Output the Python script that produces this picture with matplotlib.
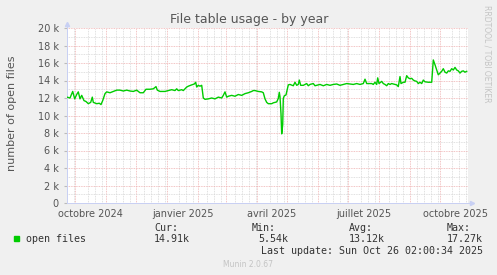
import datetime as dt
import matplotlib
matplotlib.use("Agg")
import matplotlib.pyplot as plt
import matplotlib.patches as patches

start = dt.datetime(2024, 9, 23)

# days since start, number of open files (thousands)
days = [0, 3, 5.7, 7.7, 9.7, 11.3, 13, 14.7, 17, 19, 21.3, 23.7, 25.3, 26.3, 29.7,
        32.3, 34, 35.7, 38, 39.7, 43, 46.3, 49.7, 53, 56.3, 59.7, 63, 66.3, 69.7,
        73, 76.3, 79, 83, 86.3, 89, 90.3, 93, 96.3,
        98, 101.3, 104.7, 108, 109.7, 111.3, 114.7, 116.3, 118, 119.7, 121.3, 124.7,
        127.3, 128.7, 129.7, 131.3, 133, 134.7, 136.3, 138, 141.3, 144.7, 148, 151.3,
        154.7, 156.3, 158, 159.7, 161.3, 164.7, 168, 171.3, 174.7, 178, 181.3, 184.7,
        186.3, 188, 191.3, 194.7, 196.3, 198, 199.7, 201.3, 204.7,
        206.3, 209.7, 211.3, 212.3, 213, 214, 214.7, 215.7, 216.3, 217.3, 219, 219.7,
        221.3, 223, 226.3, 228, 229.7, 231.3, 232.3, 233.7, 236.3, 239.7, 241.3, 243,
        246.3, 248, 249.7, 253, 256.3, 259.7, 263, 266.3, 269.7, 273, 276.3, 279.7,
        283, 286.3, 289.7, 293, 296.3, 298, 299.7, 303,
        304.7, 306.3, 308, 309.7, 310.7, 312, 314.7, 316.3, 318, 319.7, 321.3, 323,
        324.7, 328, 329.7, 331.3, 333, 334, 336.3, 338, 339.7, 341.3, 343, 344.7,
        346.3, 348, 349.7, 351.3, 353, 354.7, 356.3, 358, 361.3, 364.7, 366.3, 368,
        369.7, 371.3, 373, 374.7, 376.3, 378, 379.7, 381.3, 383, 384.7, 386.3, 388,
        389.7, 391.3, 393, 394.7, 396.3, 398, 399.7]
files_k = [12.1, 12.0, 12.75, 11.9, 12.4, 12.7, 11.9, 12.3, 11.7, 11.6, 11.35, 11.5, 12.1, 11.5, 11.35,
           11.4, 11.25, 11.7, 12.5, 12.7, 12.6, 12.75, 12.9, 12.9, 12.8, 12.9, 12.8, 12.75, 12.9,
           12.6, 12.6, 13.0, 13.0, 13.05, 13.3, 12.9, 12.75, 12.75,
           12.75, 12.85, 12.95, 12.85, 13.05, 12.85, 12.95, 12.85, 13.05, 13.25, 13.35, 13.5,
           13.6, 13.8, 13.25, 13.45, 13.35, 13.45, 12.0, 11.85, 11.9, 12.0, 11.9, 12.1,
           12.0, 12.3, 12.7, 12.1, 12.2, 12.3, 12.2, 12.4, 12.3, 12.5, 12.6, 12.75,
           12.85, 12.85, 12.75, 12.7, 12.6, 11.9, 11.5, 11.35, 11.35,
           11.45, 11.55, 11.95, 12.65, 12.15, 10.2, 7.9, 8.95, 11.95, 12.25, 12.35, 12.7,
           13.5, 13.55, 13.4, 13.8, 13.45, 13.55, 14.05, 13.45, 13.45, 13.65, 13.4, 13.55,
           13.65, 13.4, 13.45, 13.55, 13.4, 13.55, 13.45, 13.55, 13.6, 13.45, 13.55, 13.65,
           13.6, 13.55, 13.65, 13.55, 13.65, 14.15, 13.65, 13.65,
           13.65, 13.55, 13.8, 13.55, 14.3, 13.65, 13.9, 13.65, 13.55, 13.4, 13.65, 13.55,
           13.65, 13.55, 13.5, 13.3, 14.45, 13.65, 13.8, 13.8, 14.55, 14.3, 14.2, 14.25,
           14.05, 13.95, 13.9, 13.65, 13.8, 13.65, 14.05, 13.85, 13.8, 13.8, 16.35, 15.8,
           15.2, 14.65, 14.85, 15.05, 15.35, 14.95, 14.85, 15.1, 15.05, 15.35, 15.2, 15.5,
           15.2, 15.1, 14.85, 15.05, 15.1, 14.95, 15.05]

month_labels = ["octobre 2024", "janvier 2025", "avril 2025", "juillet 2025", "octobre 2025"]
label_months = [(2024, 10), (2025, 1), (2025, 4), (2025, 7), (2025, 10)]
yticks = list(range(0, 21, 2))
ytick_labels = ["0"] + ["%d k" % v for v in yticks[1:]]

stats_heads = ["Cur:", "Min:", "Avg:", "Max:"]
stats_vals = ["14.91k", "5.54k", "13.12k", "17.27k"]

dates = [start + dt.timedelta(days=d) for d in days]
end = start + dt.timedelta(days=401)

W, H = 497, 275
fig = plt.figure(figsize=(W / 100, H / 100), dpi=100, facecolor="#f0f0f0")
ax = fig.add_axes([67 / W, 72 / H, 401 / W, 175 / H])
ax.set_facecolor("white")

red = "#eeb0b0"
gray = "#d6d6d6"
dots = (0, (1, 1))
glw = 0.6

# vertical grid: weeks (gray), months (red)
d = start
while d <= end:
    if d.day > 7 or d == start:
        ax.axvline(d, color=gray, lw=glw, ls=dots, zorder=1)
    d += dt.timedelta(days=7)
mstarts = []
y, m = 2024, 10
while dt.datetime(y, m, 1) < end:
    mstarts.append(dt.datetime(y, m, 1))
    m += 1
    if m > 12:
        y, m = y + 1, 1
for ms in mstarts:
    ax.axvline(ms, color=red, lw=glw, ls=dots, zorder=1)

ax.set_yticks(yticks)
ax.set_yticklabels(ytick_labels)
ax.set_yticks(range(1, 20, 2), minor=True)
ax.grid(axis="y", which="major", color=red, lw=glw, ls=dots, zorder=1)
ax.grid(axis="y", which="minor", color=gray, lw=glw, ls=dots, zorder=1)

ax.plot(dates, files_k, color="#00cc00", lw=1.0, zorder=3)

ax.set_xlim(start, end)
ax.set_ylim(0, 20)

mids = []
for (yy, mm) in label_months:
    a = dt.datetime(yy, mm, 1)
    b = dt.datetime(yy + (mm == 12), mm % 12 + 1, 1)
    mids.append(a + (b - a) / 2)
ax.set_xticks(mids)
ax.set_xticklabels(month_labels)
ax.set_xticks([], minor=True)

ax.tick_params(axis="x", length=0, pad=4, labelsize=7, labelcolor="#555555")
ax.tick_params(axis="y", which="major", length=2, color="#bbbbbb", pad=4,
               labelsize=7, labelcolor="#555555")
ax.tick_params(axis="y", which="minor", length=0)

for s in ["top", "right"]:
    ax.spines[s].set_visible(False)
axis_col = "#c8d0f4"
for s in ["left", "bottom"]:
    ax.spines[s].set_color(axis_col)
    ax.spines[s].set_linewidth(0.7)
ax.plot([0, 0], [1, 1.02], color=axis_col, lw=0.7, transform=ax.transAxes, clip_on=False)
ax.plot([1, 1.008], [0, 0], color=axis_col, lw=0.7, transform=ax.transAxes, clip_on=False)
ax.plot([0], [1.025], marker="^", ms=3, color=axis_col, transform=ax.transAxes, clip_on=False)
ax.plot([1.01], [0], marker=">", ms=3, color=axis_col, transform=ax.transAxes, clip_on=False)

fig.text(249 / W, 1 - 20 / H, "File table usage - by year", ha="center", va="center",
         fontsize=9, color="#555555")
fig.text(12 / W, 1 - 113 / H, "number of open files", rotation=90, ha="center", va="center",
         fontsize=8, color="#555555")
fig.text(487 / W, 1 - 5 / H, "RRDTOOL / TOBI OETIKER", rotation=270, ha="center", va="top",
         fontsize=5.5, color="#c4c4c4")

mono = "DejaVu Sans Mono"
fig.patches.append(patches.Rectangle((14 / W, 1 - 241 / H), 5 / W, 5 / H,
                                     transform=fig.transFigure, color="#00cc00"))
fig.text(26 / W, 1 - 239.5 / H, "open files", family=mono, fontsize=7.2, va="center", color="#333333")
head_x = [154, 252, 349, 447]
val_right = [190, 288, 385, 483]
for hx, hd, vr, vl in zip(head_x, stats_heads, val_right, stats_vals):
    fig.text(hx / W, 1 - 228 / H, hd, family=mono, fontsize=7.2, va="center", color="#333333")
    fig.text(vr / W, 1 - 239.5 / H, vl, family=mono, fontsize=7.2, va="center", ha="right",
             color="#333333")
fig.text(483 / W, 1 - 251.5 / H, "Last update: Sun Oct 26 02:00:34 2025", family=mono,
         fontsize=7.2, va="center", ha="right", color="#333333")
fig.text(248 / W, 1 - 264.5 / H, "Munin 2.0.67", ha="center", va="center", fontsize=5.5,
         color="#c4c4c4")

fig.savefig("out.png", dpi=100, facecolor=fig.get_facecolor())
